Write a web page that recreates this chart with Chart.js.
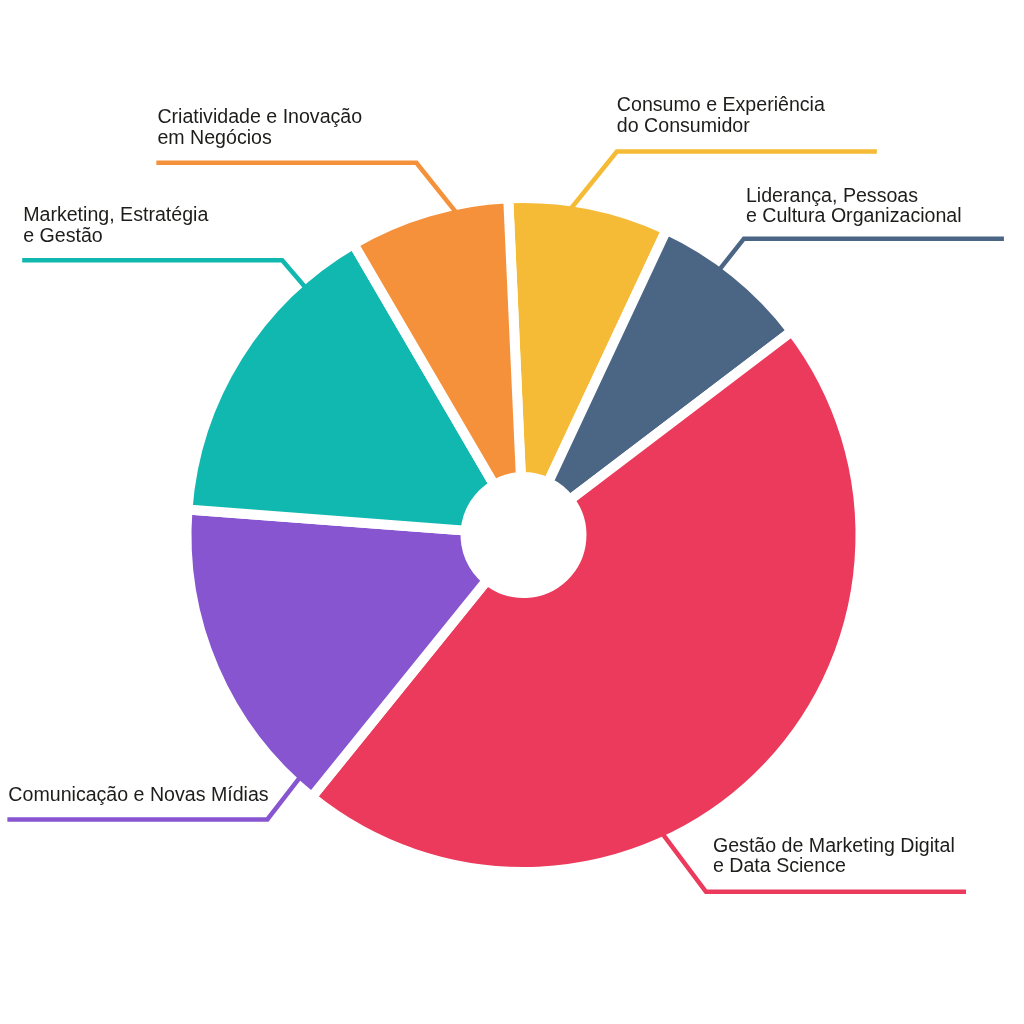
<!DOCTYPE html>
<html>
<head>
<meta charset="utf-8">
<script src="https://cdn.jsdelivr.net/npm/chart.js@4"></script>
<style>
  html, body { margin: 0; padding: 0; background: #ffffff; }
  #wrap { width: 1024px; height: 1024px; }
</style>
</head>
<body>
<div id="wrap"><canvas id="c" width="1024" height="1024"></canvas></div>
<script>
// ---- data ----
const categories = [
  ["Consumo e Experiência", "do Consumidor"],
  ["Liderança, Pessoas", "e Cultura Organizacional"],
  ["Gestão de Marketing Digital", "e Data Science"],
  ["Comunicação e Novas Mídias"],
  ["Marketing, Estratégia", "e Gestão"],
  ["Criatividade e Inovação", "em Negócios"]
];
const values = [1, 1, 6, 2, 2, 1];
const colors = ["#F6BB36", "#4B6584", "#EB3A5B", "#8855D0", "#10B8B0", "#F5913A"];

// ---- label layout (styling only) ----
const leaderLayout = [
  { frac: 0.40,  ex: 44.4,  ey: -55.1, tx: 0, gap: 19.8 },
  { frac: 0.41,  ex: 23.2,  ey: -29.3, tx: 2, gap: 16.3 },
  { frac: 0.615, ex: 42,    ey: 56,    tx: 7, gap: 19.8 },
  { frac: 0.067, ex: -31.2, ey: 40.2,  tx: 1, gap: 18.3 },
  { frac: 0.80,  ex: -21.9, ey: -25.5, tx: 1, gap: 18.8 },
  { frac: 0.66,  ex: -38,   ey: -47.4, tx: 1, gap: 19.2 }
];
const BORDER = 10;
const HLEN = 260;
const FONT = '19.6px "Liberation Sans", Arial, Helvetica, sans-serif';
const LINE_H = 20.5;

const leaderPlugin = {
  id: 'leaders',
  afterDatasetsDraw(chart) {
    const ctx = chart.ctx;
    const meta = chart.getDatasetMeta(0);
    ctx.save();
    meta.data.forEach((arc, i) => {
      const p = arc.getProps(['x', 'y', 'startAngle', 'endAngle', 'outerRadius'], true);
      const L = leaderLayout[i];
      const a = p.startAngle + L.frac * (p.endAngle - p.startAngle);
      const r = p.outerRadius - BORDER / 2;
      const sx = p.x + r * Math.cos(a);
      const sy = p.y + r * Math.sin(a);
      const exx = sx + L.ex;
      const eyy = sy + L.ey;
      const len = Math.hypot(L.ex, L.ey);
      const ix = sx - (L.ex / len) * 12;
      const iy = sy - (L.ey / len) * 12;
      const endX = L.ex < 0 ? exx - HLEN : exx + HLEN;
      ctx.strokeStyle = colors[i];
      ctx.lineWidth = 4.5;
      ctx.lineCap = 'butt';
      ctx.lineJoin = 'miter';
      ctx.beginPath();
      ctx.moveTo(ix, iy);
      ctx.lineTo(exx, eyy);
      ctx.lineTo(endX, eyy);
      ctx.stroke();

      // text
      const lines = categories[i];
      const textX = Math.min(exx, endX) + L.tx;
      const lastBase = eyy - L.gap;
      ctx.fillStyle = '#1d1d1b';
      ctx.font = FONT;
      ctx.textAlign = 'left';
      ctx.textBaseline = 'alphabetic';
      lines.forEach((t, k) => {
        ctx.fillText(t, textX, lastBase - (lines.length - 1 - k) * LINE_H);
      });
    });
    ctx.restore();
  }
};

new Chart(document.getElementById('c'), {
  type: 'doughnut',
  data: {
    labels: categories,
    datasets: [{
      data: values,
      backgroundColor: colors,
      borderColor: '#ffffff',
      borderWidth: BORDER,
      hoverBorderWidth: BORDER,
      borderAlign: 'center',
      offset: 0,
      hoverOffset: 0
    }]
  },
  options: {
    responsive: false,
    devicePixelRatio: 1,
    animation: false,
    events: [],
    cutout: '17.2%',
    rotation: -2.6,
    layout: { padding: { left: 181.5, right: 158.5, top: 193, bottom: 147 } },
    plugins: {
      legend: { display: false },
      tooltip: { enabled: false },
      title: { display: false }
    }
  },
  plugins: [leaderPlugin]
});
</script>
</body>
</html>
